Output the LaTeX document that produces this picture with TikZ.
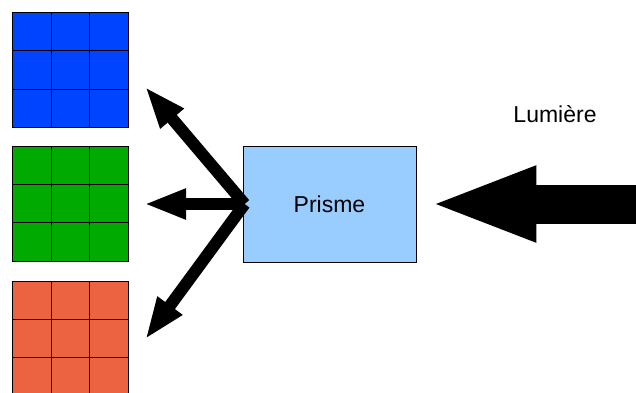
\documentclass[tikz,border=0pt]{standalone}
\usepackage{fontspec}
\setmainfont{Liberation Sans}
\usetikzlibrary{arrows.meta}
\definecolor{cblue}{RGB}{0,68,255}
\definecolor{cgreen}{RGB}{0,170,0}
\definecolor{corange}{RGB}{235,99,64}
\definecolor{cprism}{RGB}{153,204,255}
\begin{document}
\begin{tikzpicture}[x=1pt,y=-1pt,
  cellbox/.style={draw=black, line width=1pt, minimum width=38.5pt, minimum height=38.3pt, inner sep=0pt, outer sep=0pt},
  prismbox/.style={draw=black, line width=0.8pt, fill=cprism, minimum width=173pt, minimum height=116pt, inner sep=0pt, font=\fontsize{23}{27}\selectfont},
  smallarrow/.style={line width=12pt, -{Triangle[length=42pt,width=28pt]}},
  bigarrow/.style={line width=39pt, -{Triangle[length=108pt,width=68pt]}},
  label/.style={font=\fontsize{23}{27}\selectfont, inner sep=0pt}]
\clip (0,0) rectangle (636,392);
\fill[white] (0,0) rectangle (636,392);
% grids
\foreach \r in {0,1,2}{
  \foreach \c in {0,1,2}{
    \node[cellbox, fill=cblue]   (b\r\c) at ({31.75+38.5*\c},{31.6+38.3*\r}) {};
    \node[cellbox, fill=cgreen]  (g\r\c) at ({31.75+38.5*\c},{165.3+38.3*\r}) {};
    \node[cellbox, fill=corange] (o\r\c) at ({31.75+38.5*\c},{300.2+38.3*\r}) {};
  }
}
% prism
\node[prismbox] (prism) at (329.5,204) {Prisme};
% light label
\node[label, anchor=base] (light) at (555,122.5) {Lumière};
% arrow end points
\coordinate (tipU) at (145,86.7);
\coordinate (tipL) at (144,204);
\coordinate (tipD) at (145.2,339.4);
\coordinate (lightsrc) at (660,204);
% arrows
\draw[smallarrow] ([xshift=2pt]prism.west) -- (tipU);
\draw[smallarrow] ([xshift=2pt]prism.west) -- (tipL);
\draw[smallarrow] ([xshift=2pt]prism.west) -- (tipD);
\draw[bigarrow, shorten >=12pt] (lightsrc) -- (prism.east);
\end{tikzpicture}
\end{document}
